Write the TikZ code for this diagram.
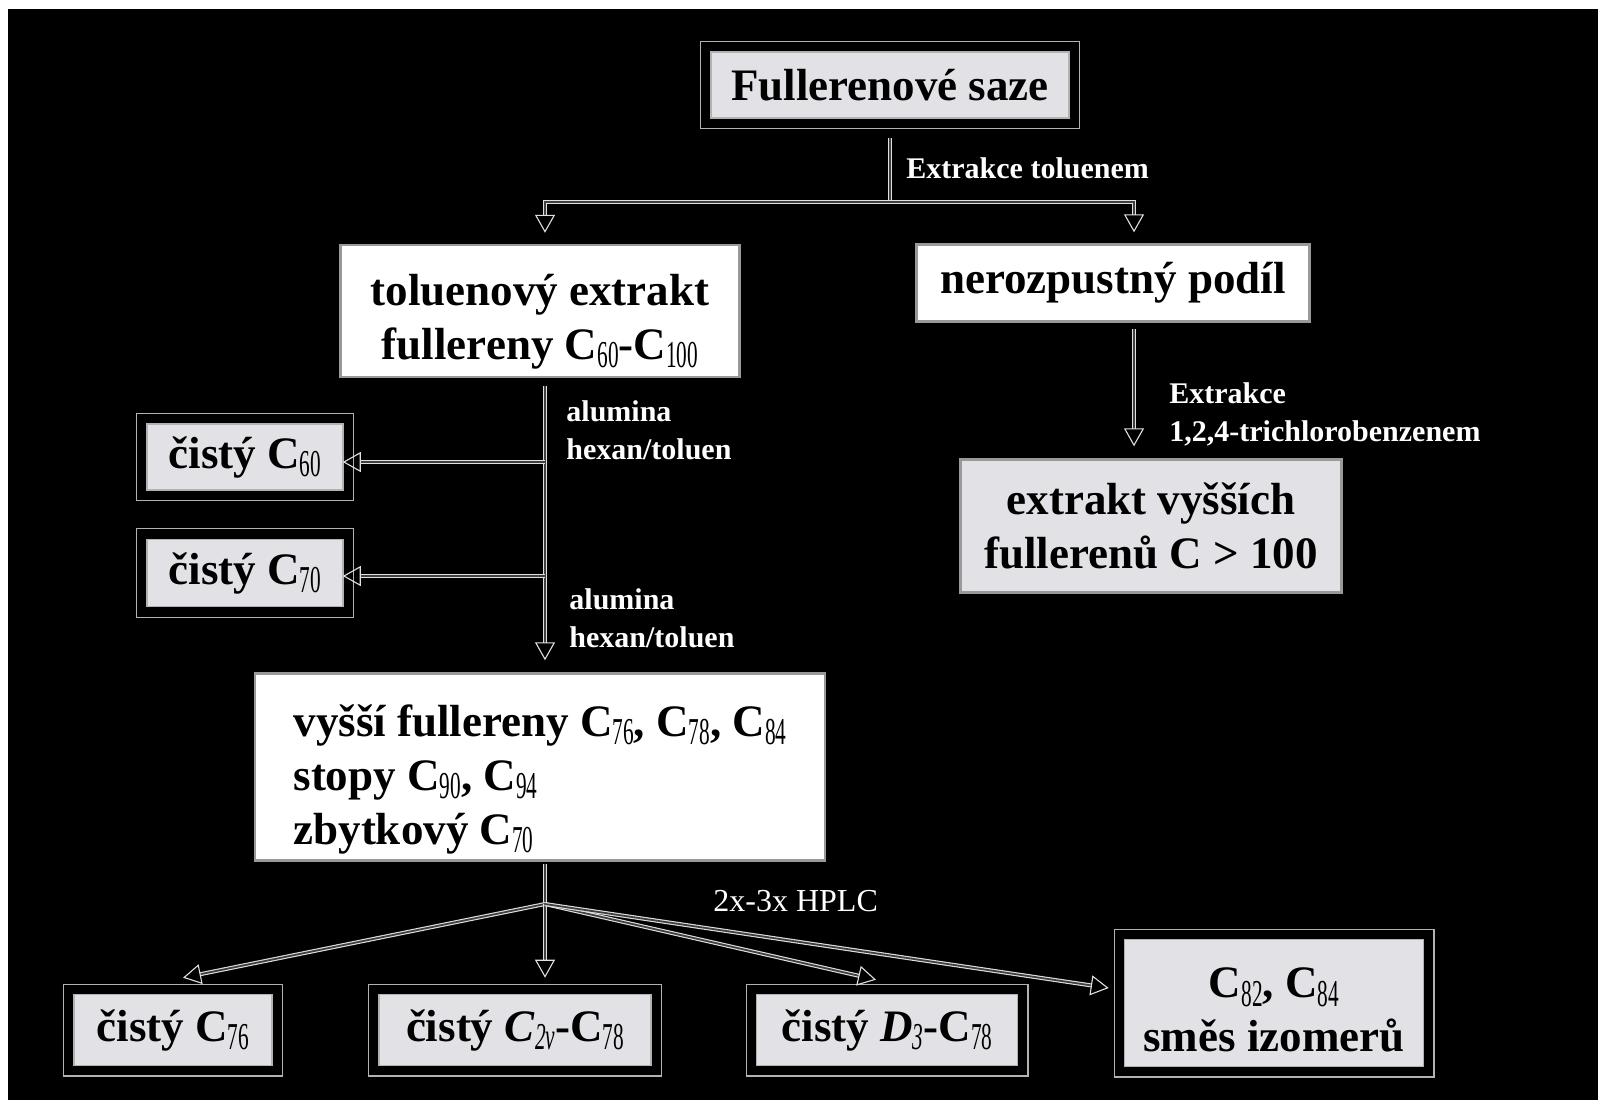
\documentclass[tikz,border=0pt]{standalone}
\usepackage{fontspec}
\usepackage{graphicx}
\setmainfont{Liberation Serif}
\usetikzlibrary{arrows.meta}
\definecolor{boxgray}{RGB}{226,226,230}
\newcommand\ix[1]{\raisebox{-4.2pt}[0pt][0pt]{\mdseries\fontsize{19}{19}\selectfont\scalebox{0.56}[1]{#1}}}
\begin{document}
\begin{tikzpicture}[x=0.5pt,y=-0.5pt,
  pure/.style={draw=black!30,line width=0.6pt,double=black,double distance=4.6pt,fill=boxgray,inner sep=0pt,align=center,font=\fontsize{22.5}{27}\selectfont\bfseries},
  plain/.style={draw=black!40,line width=1.2pt,fill=white,inner sep=0pt,align=center,font=\fontsize{22.5}{27}\selectfont\bfseries},
  conn/.style={draw=white!88!black,line width=0.55pt,double=black!75,double distance=0.9pt,-{Triangle[open,length=9pt,width=10pt]}},
  lbl/.style={text=white,font=\fontsize{15}{19}\selectfont\bfseries,align=left,inner sep=0pt,anchor=west}]
\useasboundingbox (0,0) rectangle (1598,1100);
\fill[white] (0,0) rectangle (1598,1100);
\fill[black] (8,9) rectangle (1598,1100);
% boxes
\node[pure,minimum width=184.2pt,minimum height=38.2pt] (src) at (890,85) {Fullerenové saze};
\node[plain,minimum width=199.5pt,minimum height=66pt] (tol) at (540,311) {\rule{0pt}{26pt}toluenový extrakt\\fullereny C\ix{60}-C\ix{100}};
\node[plain,minimum width=196.5pt,minimum height=38.5pt] (ner) at (1113,283) {nerozpustný podíl};
\node[plain,fill=boxgray,minimum width=190.5pt,minimum height=66.5pt] (ext) at (1151,526) {extrakt vyšších\\fullerenů C > 100};
\node[pure,minimum width=103.2pt,minimum height=38.2pt] (c60) at (245,457) {čistý C\ix{60}};
\node[pure,minimum width=103.2pt,minimum height=39pt] (c70) at (245,573) {čistý C\ix{70}};
\node[plain,align=left,minimum width=285pt,minimum height=93.5pt] (vys) at (540,767) {\rule{0pt}{28pt}vyšší fullereny C\ix{76}, C\ix{78}, C\ix{84}\\stopy C\ix{90}, C\ix{94}\\zbytkový C\ix{70}};
\node[pure,minimum width=104.2pt,minimum height=40.7pt] (c76) at (173,1030) {čistý C\ix{76}};
\node[pure,minimum width=141.2pt,minimum height=40.7pt] (c2v) at (515,1030) {čistý \textit{C}\ix{\textit{2v}}-C\ix{78}};
\node[pure,minimum width=135.7pt,minimum height=40.7pt] (d3) at (887,1030) {čistý \textit{D}\ix{\textit{3}}-C\ix{78}};
\node[pure,minimum width=154.7pt,minimum height=68.7pt] (c82) at (1274,1003) {\rule{0pt}{22pt}C\ix{82}, C\ix{84}\\směs izomerů};
% connectors
\coordinate (split) at (890,202);
\draw[conn,-] ([yshift=-7pt]src.south) -- (split);
\draw[conn] (split) -| ([xshift=2.5pt,yshift=5.5pt]tol.north);
\draw[conn] (split) -| ([xshift=10.5pt,yshift=5.5pt]ner.north);
\draw[conn] ([xshift=10.5pt,yshift=-3pt]ner.south) -- ([xshift=-8.5pt,yshift=6pt]ext.north);
\draw[conn] ([xshift=2.5pt,yshift=-4pt]tol.south) -- ([xshift=2.5pt,yshift=6pt]vys.north);
\coordinate (a60) at (545,462);
\coordinate (a70) at (545,576);
\draw[conn,shorten >=-3pt] (a60) -- (c60.east |- a60);
\draw[conn,shorten >=-3pt] (a70) -- (c70.east |- a70);
\coordinate (hp) at (545,904);
\draw[conn,-] ([xshift=2.5pt,yshift=-1pt]vys.south) -- (hp);
\foreach \n/\a/\dx/\dy in {c76/north/5/5.5,c2v/north/15/5.5,d3/north/-5.5/4.5,c82/west/-5/7.5}
  \draw[conn] (hp) -- ([xshift=\dx pt,yshift=\dy pt]\n.\a);
% labels
\node[lbl] (l1) at (906,168) {Extrakce toluenem};
\node[lbl] (l2) at (566,430) {alumina\\hexan/toluen};
\node[lbl] (l3) at (569,618) {alumina\\hexan/toluen};
\node[lbl] (l4) at (1169,414) {Extrakce\\1,2,4-trichlorobenzenem};
\node[lbl,font=\fontsize{16}{19}\selectfont] (l5) at (713,901) {2x-3x HPLC};
\end{tikzpicture}
\end{document}
